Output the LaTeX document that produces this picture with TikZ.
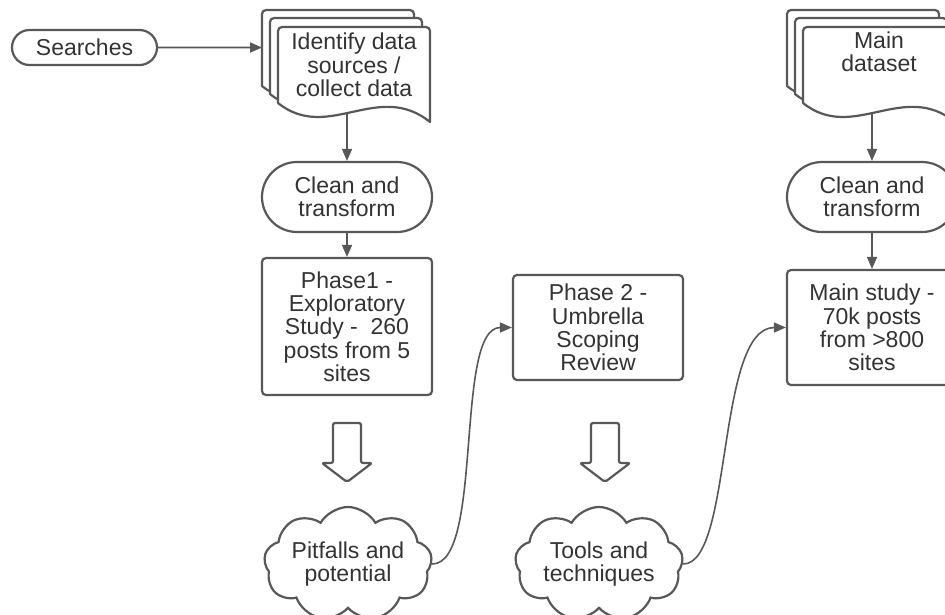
\documentclass[tikz,border=0pt]{standalone}
\usepackage{fontspec}
\setmainfont{Liberation Sans}
\usetikzlibrary{shapes.misc,shapes.symbols,arrows.meta}

\definecolor{lineg}{RGB}{88,88,88}
\definecolor{textg}{RGB}{51,51,51}

% one paper sheet of a stacked document, top-left corner at (#1,#2)
\newcommand\docsheet[2]{%
  \begin{scope}[shift={(#1,#2)}]
    \draw[sheet] (0,76) [rounded corners=4pt] -- (0,0) -- (152,0) [sharp corners] -- (152,95)
      .. controls (100,53) and (50,116) .. (0,76) -- cycle;
  \end{scope}}

\tikzset{
  base/.style={draw=lineg, line width=2.2pt, fill=white, text=textg, align=center,
    font=\fontsize{23}{23.3}\selectfont, inner sep=0pt},
  sheet/.style={draw=lineg, line width=2.2pt, fill=white, line join=round},
  stadium/.style={base, rounded rectangle, minimum width=170pt, minimum height=70pt},
  box/.style={base, rectangle, rounded corners=4pt, minimum width=170pt},
  cloudy/.style={base, cloud, cloud puffs=9, cloud puff arc=120, cloud ignores aspect,
    minimum width=168pt, minimum height=114pt},
  doctext/.style={text=textg, align=center, font=\fontsize{23}{23.3}\selectfont, inner sep=0pt},
  arr/.style={draw=lineg, line width=1.6pt, -{Triangle[length=12pt,width=10pt]}},
  blockdown/.pic={
    \draw[lineg, line width=2.2pt, line join=round, rounded corners=2pt, fill=white]
      (-14,0) -- (14,0) -- (14,40) -- (25,40) -- (0,59) -- (-25,40) -- (-14,40) -- cycle;
  }
}

\begin{document}
\begin{tikzpicture}[x=1pt,y=-1pt]
  \useasboundingbox (0,0) rectangle (945,614);
  \fill[white] (0,0) rectangle (945,614);
  \clip (0,0) rectangle (945,614);

  % entry point
  \node[base, rounded rectangle, minimum width=145pt, minimum height=35pt] (srch) at (84.5,47.5) {Searches};

  % stacked documents: data collection
  \docsheet{262}{10}
  \docsheet{270}{18}
  \docsheet{278}{27}
  \node[doctext] (src) at (354,65) {Identify data\\sources /\\collect data};
  \coordinate (srcL) at (262,47.5);
  \coordinate (srcb) at (347,113);

  % stacked documents: main dataset
  \docsheet{787}{10}
  \docsheet{795}{18}
  \docsheet{803}{27}
  \node[doctext] (mds) at (879,51.5) {Main\\dataset};
  \coordinate (mdb) at (872,113);

  % left column
  \node[stadium] (cl1) at (347,197) {Clean and\\transform};
  \node[box, minimum height=137pt] (ph1) at (347,326.5)
    {Phase1 -\\Exploratory\\Study -\ \ 260\\posts from 5\\sites};
  \pic (ba1) at (347,423) {blockdown};
  \node[cloudy] (pf) at (348,564) {Pitfalls and\\potential};

  % middle column
  \node[box, minimum height=105pt] (ph2) at (598,327.5)
    {Phase 2 -\\Umbrella\\Scoping\\Review};
  \pic (ba2) at (605,423) {blockdown};
  \node[cloudy] (tt) at (599,564) {Tools and\\techniques};

  % right column
  \node[stadium] (cl2) at (872,197) {Clean and\\transform};
  \node[box, minimum height=115pt] (ms) at (872,327.5)
    {Main study -\\70k posts\\from >800\\sites};

  % connectors
  \draw[arr] (srch) -- (srcL);
  \draw[arr] (srcb) -- (cl1);
  \draw[arr] (cl1) -- (ph1);
  \draw[arr] (mdb) -- (cl2);
  \draw[arr] (cl2) -- (ms);
  \draw[arr] (pf.east) .. controls +(52,0) and +(-58,0) .. (ph2.west);
  \draw[arr] (tt.east) .. controls +(50,0) and +(-70,0) .. (ms.west);
\end{tikzpicture}
\end{document}
